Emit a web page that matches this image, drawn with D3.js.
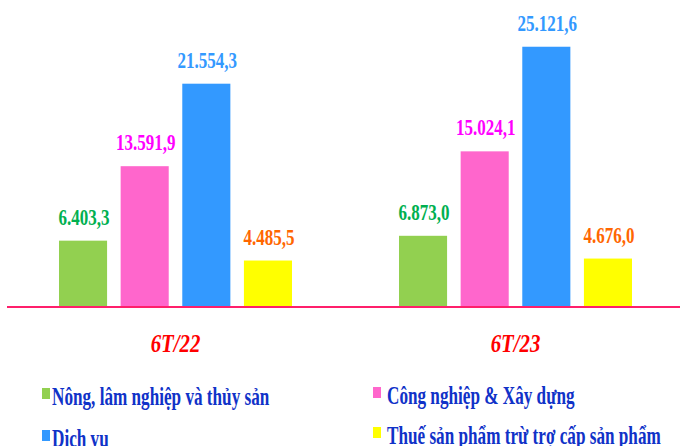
<!DOCTYPE html>
<html>
<head>
<meta charset="utf-8">
<script src="https://cdn.jsdelivr.net/npm/d3@7"></script>
<style>
  body { margin: 0; background: #fff; }
  text { font-family: "Liberation Serif", "Times New Roman", serif; font-weight: bold; }
</style>
</head>
<body>
<div id="chart"></div>
<script>
// Data
const periods = ["6T/22", "6T/23"];
const sectors = ["Nông, lâm nghiệp và thủy sản", "Công nghiệp & Xây dựng", "Dịch vụ", "Thuế sản phẩm trừ trợ cấp sản phẩm"];
const values22 = [6403.3, 13591.9, 21554.3, 4485.5];
const values23 = [6873.0, 15024.1, 25121.6, 4676.0];
const valueLabels22 = ["6.403,3", "13.591,9", "21.554,3", "4.485,5"];
const valueLabels23 = ["6.873,0", "15.024,1", "25.121,6", "4.676,0"];

const barColors = ["#92d050", "#ff66cc", "#3399ff", "#ffff00"];
const labelColors = ["#00b050", "#ff00ff", "#3399ff", "#ff6600"];

const width = 680, height = 446;
const baseY = 307;

const data = periods.map((p, i) => ({
  period: p,
  values: (i === 0 ? values22 : values23).map((v, j) => ({
    sector: sectors[j],
    value: v,
    label: (i === 0 ? valueLabels22 : valueLabels23)[j]
  }))
}));

const svg = d3.select("#chart").append("svg")
    .attr("width", width)
    .attr("height", height);

// Scales
const x0 = d3.scaleBand().domain(periods).range([5.5, 685.5]).padding(0);
const x1 = d3.scaleBand().domain(sectors).range([0, 233]).paddingInner(0.22).paddingOuter(0);
const y = d3.scaleLinear().domain([0, 25000]).range([baseY, 48]);
const color = d3.scaleOrdinal().domain(sectors).range(barColors);
const labelColor = d3.scaleOrdinal().domain(sectors).range(labelColors);

const groups = svg.selectAll(".group")
  .data(data)
  .enter().append("g")
    .attr("class", "group")
    .attr("transform", d => `translate(${x0(d.period) + x0.bandwidth() / 2 - 116.5},0)`);

// Bars
groups.selectAll("rect")
  .data(d => d.values)
  .enter().append("rect")
    .attr("x", d => x1(d.sector))
    .attr("y", d => y(d.value))
    .attr("width", x1.bandwidth())
    .attr("height", d => baseY - y(d.value))
    .attr("fill", d => color(d.sector));

// Value labels
groups.selectAll(".val")
  .data(d => d.values)
  .enter().append("g")
    .attr("class", "val")
    .attr("transform", d => `translate(${x1(d.sector) + x1.bandwidth() / 2 + 1},${y(d.value) - 16}) scale(0.74,1)`)
  .append("text")
    .attr("text-anchor", "middle")
    .style("font-size", "23px")
    .attr("fill", d => labelColor(d.sector))
    .text(d => d.label);

// Baseline
svg.append("line")
    .attr("x1", 7).attr("x2", width)
    .attr("y1", baseY).attr("y2", baseY)
    .attr("stroke", "#ff1f6b")
    .attr("stroke-width", 2);

// Category labels
svg.selectAll(".cat")
  .data(periods)
  .enter().append("g")
    .attr("class", "cat")
    .attr("transform", d => `translate(${x0(d) + x0.bandwidth() / 2},352) scale(0.8,1)`)
  .append("text")
    .attr("text-anchor", "middle")
    .style("font-size", "26px")
    .style("font-style", "italic")
    .attr("fill", "#ff0000")
    .text(d => d);

// Legend
const legendPos = [[42, 399], [373, 398], [42, 441], [373, 438]];
const legend = svg.selectAll(".legend")
  .data(sectors)
  .enter().append("g")
    .attr("class", "legend")
    .attr("transform", (d, i) => `translate(${legendPos[i][0]},${legendPos[i][1]})`);

legend.append("rect")
    .attr("x", 0)
    .attr("y", -11)
    .attr("width", 8)
    .attr("height", 11)
    .attr("fill", d => color(d));

legend.append("g")
    .attr("transform", (d, i) => `translate(${i % 2 === 0 ? 10 : 14},6) scale(0.66,1)`)
  .append("text")
    .style("font-size", "26px")
    .attr("fill", "#1032c8")
    .text(d => d);
</script>
</body>
</html>
